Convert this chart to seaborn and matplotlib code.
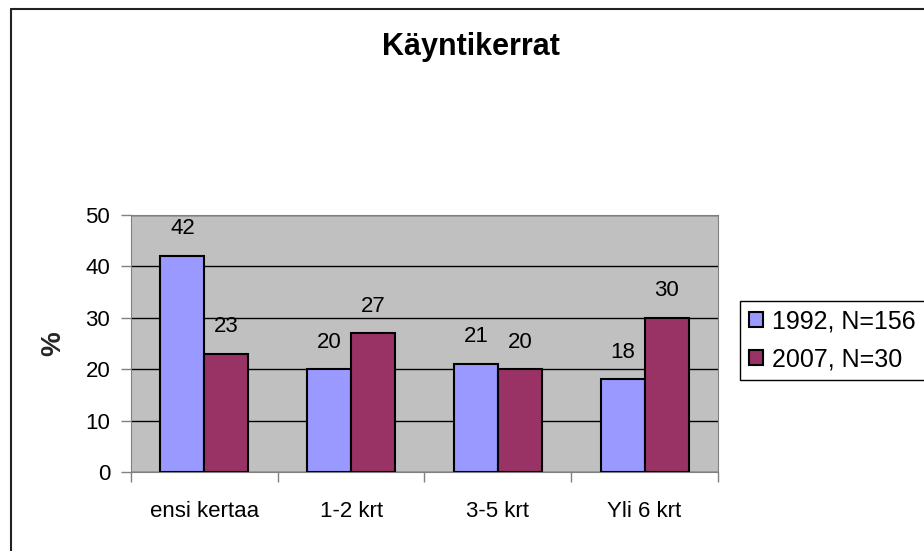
import matplotlib.pyplot as plt
import seaborn as sns
import pandas as pd
from matplotlib.lines import Line2D

# Käyntikerrat
kategoriat = ['ensi kertaa', '1-2 krt', '3-5 krt', 'Yli 6 krt']
arvot_1992 = [42, 20, 21, 18]
arvot_2007 = [23, 27, 20, 30]
sarjat = ['1992, N=156', '2007, N=30']
varit = ['#9999FF', '#993366']

df = pd.DataFrame({
    'Kategoria': kategoriat * 2,
    'Prosentti': arvot_1992 + arvot_2007,
    'Sarja': [sarjat[0]] * 4 + [sarjat[1]] * 4,
})

sns.set_style('white')
plt.rcParams['font.family'] = ['Liberation Sans', 'DejaVu Sans']
plt.rcParams['text.color'] = 'black'
plt.rcParams['xtick.labelcolor'] = 'black'
plt.rcParams['ytick.labelcolor'] = 'black'

fig = plt.figure(figsize=(9.24, 5.51), dpi=100)
ax = fig.add_axes([0.1418, 0.1434, 0.6352, 0.4664])
ax.set_facecolor('#C0C0C0')

sns.barplot(data=df, x='Kategoria', y='Prosentti', hue='Sarja', order=kategoriat,
            hue_order=sarjat, palette=varit, width=0.6, gap=0, saturation=1,
            edgecolor='black', linewidth=1.5, ax=ax, zorder=3)

for cont in ax.containers:
    ax.bar_label(cont, padding=12, fontsize=16)

ax.set_ylim(0, 50)
ax.set_yticks(range(0, 51, 10))
ax.yaxis.grid(True, color='black', linewidth=1, zorder=0)
ax.set_axisbelow(True)
ax.set_xlim(-0.5, 3.5)
ax.set_xticks([-0.5, 0.5, 1.5, 2.5, 3.5], minor=False)
ax.set_xticklabels([])
ax.set_xticks(range(4), minor=True)
ax.set_xticklabels(kategoriat, minor=True, fontsize=16)
ax.tick_params(axis='x', which='minor', length=0, pad=21)
ax.tick_params(axis='x', which='major', length=7, width=1, color='#808080', direction='out', bottom=True)
ax.tick_params(axis='y', length=7, width=1, color='#808080', direction='out', left=True, labelsize=16, pad=8)
ax.set_xlabel('')
ax.set_ylabel('%', fontsize=20, fontweight='bold', labelpad=14)

for side in ['top', 'right', 'left', 'bottom']:
    ax.spines[side].set_color('#808080')

ax.legend(loc='upper left', bbox_to_anchor=(740 / 924, 1 - 301 / 551),
          bbox_transform=fig.transFigure, fontsize=18, frameon=True,
          fancybox=False, edgecolor='black', framealpha=1, handlelength=0.55,
          handleheight=0.55, handletextpad=0.4, borderpad=0.35, labelspacing=0.55,
          borderaxespad=0)

fig.text(0.51, 0.915, 'Käyntikerrat', ha='center', va='center', fontsize=22, fontweight='bold')

# kehys vain vasemmalla ja ylhäällä (muu osa rajautuu pois)
x0, y0 = 11 / 924, 1 - 9 / 551
fig.lines.append(Line2D([x0, x0], [0, y0], transform=fig.transFigure, color='#222222', linewidth=1.5))
fig.lines.append(Line2D([x0, 1], [y0, y0], transform=fig.transFigure, color='#222222', linewidth=1.5))

plt.savefig('out.png', dpi=100)
